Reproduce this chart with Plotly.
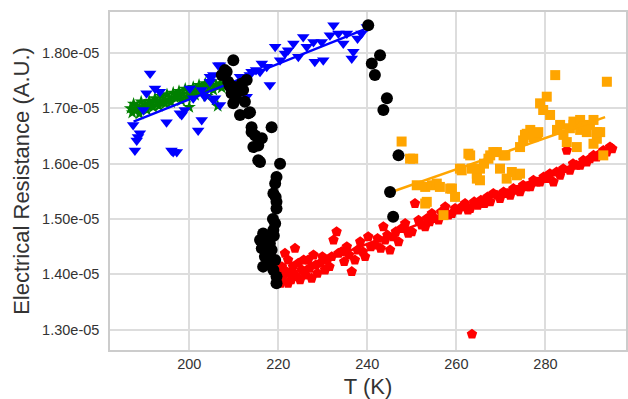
import plotly.graph_objects as go

R_UNIT = 1e-5

green_t = [186.8, 187.2, 187.5, 187.9, 188.3, 188.8, 189.2, 189.6, 190.1, 190.5, 191.0, 191.4, 191.9, 192.3, 192.8,
           193.2, 193.7, 194.1, 194.6, 195.0, 195.5, 195.9, 196.4, 196.8, 197.3, 197.7, 198.2, 198.6, 199.1, 199.5,
           200.0, 200.4, 200.9, 201.3, 201.8, 202.2, 202.7, 203.1, 203.6, 204.0, 204.5, 205.0, 205.4, 206.0, 206.4,
           206.9, 207.3]
green_r = [1.700, 1.692, 1.708, 1.697, 1.703, 1.690, 1.712, 1.701, 1.706, 1.697, 1.713, 1.708, 1.702, 1.718, 1.710,
           1.704, 1.722, 1.713, 1.708, 1.725, 1.716, 1.711, 1.728, 1.719, 1.722, 1.731, 1.714, 1.726, 1.735, 1.720,
           1.702, 1.729, 1.738, 1.724, 1.733, 1.742, 1.729, 1.737, 1.745, 1.722, 1.739, 1.748, 1.733, 1.742, 1.704,
           1.745, 1.737]

blue_t = [187.4, 187.8, 188.2, 188.5, 188.9, 189.7, 190.4, 191.2, 192.3, 193.4, 194.9, 196.0, 196.4, 197.2, 197.9,
          198.3, 199.0, 200.15, 200.9, 202.0, 202.8, 202.8, 203.5, 204.65, 204.65, 205.4, 205.4, 205.8, 206.5, 206.9,
          206.9, 208.0, 209.9, 211.4, 212.9, 213.6, 214.0, 215.0, 215.9, 216.3, 217.4, 218.1, 219.3, 220.4, 221.5,
          222.2, 223.4, 224.5, 225.6, 226.4, 227.9, 228.2, 229.75, 230.1, 231.6, 232.4, 233.5, 234.6, 235.4, 236.5,
          236.85, 237.8, 238.7, 239.9]
blue_r = [1.670, 1.624, 1.642, 1.648, 1.655, 1.697, 1.727, 1.763, 1.736, 1.730, 1.675, 1.624, 1.621, 1.621, 1.691,
          1.688, 1.697, 1.736, 1.718, 1.660, 1.679, 1.733, 1.721, 1.757, 1.748, 1.715, 1.760, 1.718, 1.778, 1.706,
          1.778, 1.754, 1.724, 1.757, 1.721, 1.760, 1.766, 1.769, 1.766, 1.781, 1.775, 1.742, 1.811, 1.787, 1.799,
          1.805, 1.817, 1.793, 1.829, 1.811, 1.820, 1.784, 1.820, 1.787, 1.832, 1.850, 1.835, 1.817, 1.835, 1.790,
          1.802, 1.826, 1.835, 1.847]

black_t = [207.3, 208.0, 208.4, 208.75, 209.1, 209.5, 209.9, 209.9, 209.9, 210.5, 211.0, 211.4, 211.8, 212.1, 212.9,
           212.5, 213.3, 213.65, 214.0, 214.0, 214.4, 214.8, 215.5, 215.5, 215.9, 216.3, 218.5, 220.4, 219.6, 219.3,
           218.9, 219.6, 219.6, 219.3, 218.9, 216.6, 215.9, 217.75, 216.3, 218.5, 217.0, 219.3, 216.6, 218.9, 219.6,
           219.6, 218.1, 217.4, 218.0, 219.0, 218.8, 219.4, 240.2, 242.85, 241.0, 241.7, 244.4, 243.6, 247.0, 245.1,
           245.8]
black_r = [1.760, 1.769, 1.766, 1.748, 1.740, 1.727, 1.787, 1.739, 1.709, 1.718, 1.730, 1.688, 1.745, 1.733, 1.751,
           1.712, 1.691, 1.693, 1.666, 1.657, 1.630, 1.651, 1.633, 1.606, 1.603, 1.646, 1.666, 1.600, 1.576, 1.564,
           1.546, 1.531, 1.519, 1.492, 1.480, 1.474, 1.462, 1.462, 1.447, 1.444, 1.432, 1.426, 1.414, 1.408, 1.396,
           1.384, 1.456, 1.438, 1.420, 1.470, 1.500, 1.540, 1.850, 1.796, 1.781, 1.760, 1.718, 1.697, 1.615, 1.549,
           1.504]

red_t = [219.6, 220.0, 220.3, 220.5, 220.8, 221.0, 221.5, 221.8, 222.2, 222.2, 222.6, 222.9, 223.3, 223.75, 224.1,
         224.5, 224.9, 225.3, 225.7, 226.1, 226.7, 227.0, 227.5, 227.9, 228.4, 228.8, 229.4, 229.9, 230.5, 231.0,
         231.5, 232.0, 232.4, 233.1, 233.5, 234.2, 234.8, 235.4, 235.9, 236.5, 237.2, 237.8, 238.4, 239.0, 239.5,
         240.2, 240.8, 241.7, 242.3, 243.0, 243.6, 244.0, 244.5, 245.1, 245.8, 246.4, 247.0, 247.7, 248.5, 249.2,
         250.0, 250.7, 251.5, 252.2, 253.0, 253.4, 254.0, 254.5, 255.2, 256.0, 256.6, 257.5, 258.2, 259.0, 259.7,
         260.45, 261.2, 261.95, 262.6, 263.1, 263.5, 264.0, 264.8, 265.5, 266.3, 267.0, 267.6, 268.3, 269.1, 269.8,
         270.6, 271.4, 272.1, 272.8, 273.6, 274.3, 275.0, 275.8, 276.6, 277.3, 278.1, 278.8, 279.6, 280.3, 281.0,
         281.8, 282.5, 283.3, 284.0, 284.8, 285.5, 286.2, 287.0, 287.8, 288.5, 289.3, 290.0, 290.8, 291.5, 292.3,
         293.0, 293.8, 294.5, 295.0]
red_r = [1.384, 1.392, 1.402, 1.384, 1.414, 1.396, 1.438, 1.405, 1.426, 1.384, 1.402, 1.390, 1.414, 1.447, 1.396,
         1.420, 1.390, 1.408, 1.426, 1.399, 1.426, 1.411, 1.393, 1.435, 1.417, 1.402, 1.420, 1.432, 1.408, 1.426,
         1.414, 1.432, 1.462, 1.477, 1.438, 1.441, 1.423, 1.450, 1.435, 1.405, 1.426, 1.444, 1.459, 1.441, 1.432,
         1.468, 1.450, 1.453, 1.465, 1.447, 1.486, 1.462, 1.471, 1.444, 1.468, 1.477, 1.459, 1.483, 1.492, 1.474,
         1.477, 1.528, 1.498, 1.489, 1.486, 1.501, 1.495, 1.510, 1.501, 1.498, 1.513, 1.522, 1.507, 1.510, 1.519,
         1.516, 1.522, 1.528, 1.516, 1.519, 1.292, 1.531, 1.525, 1.534, 1.528, 1.540, 1.531, 1.546, 1.543, 1.537,
         1.549, 1.546, 1.543, 1.555, 1.552, 1.549, 1.561, 1.558, 1.558, 1.570, 1.567, 1.567, 1.576, 1.573, 1.582,
         1.567, 1.585, 1.579, 1.591, 1.624, 1.588, 1.600, 1.597, 1.597, 1.606, 1.603, 1.609, 1.615, 1.612, 1.618,
         1.624, 1.621, 1.630, 1.627]

orange_t = [247.7, 249.6, 250.3, 251.1, 253.0, 253.0, 253.35, 254.5, 255.6, 256.3, 257.1, 258.6, 259.0, 259.7, 260.8,
            261.2, 262.7, 263.1, 263.5, 264.6, 264.6, 265.3, 265.3, 266.2, 267.2, 267.6, 268.3, 269.1, 269.8, 270.6,
            271.0, 271.3, 272.45, 273.6, 274.3, 274.3, 275.0, 275.4, 275.8, 276.6, 277.3, 278.1, 278.4, 278.8, 279.5,
            280.3, 281.05, 282.2, 282.6, 283.3, 284.05, 284.8, 285.5, 286.3, 286.3, 287.05, 287.8, 287.8, 288.5, 289.3,
            290.0, 290.8, 290.8, 291.55, 291.55, 292.3, 293.0, 293.8]
orange_r = [1.640, 1.609, 1.609, 1.561, 1.558, 1.528, 1.531, 1.561, 1.564, 1.558, 1.507, 1.555, 1.555, 1.540, 1.591,
            1.588, 1.618, 1.615, 1.591, 1.573, 1.582, 1.570, 1.591, 1.600, 1.609, 1.615, 1.621, 1.621, 1.591, 1.615,
            1.615, 1.573, 1.585, 1.579, 1.582, 1.630, 1.642, 1.652, 1.654, 1.661, 1.648, 1.652, 1.657, 1.709, 1.697,
            1.721, 1.688, 1.760, 1.661, 1.670, 1.652, 1.639, 1.664, 1.676, 1.670, 1.630, 1.661, 1.679, 1.667, 1.657,
            1.670, 1.679, 1.636, 1.657, 1.645, 1.657, 1.615, 1.748]

green_fit_t = [186.7, 207.4]
green_fit_r = [1.693, 1.738]
blue_fit_t = [187.5, 239.5]
blue_fit_r = [1.676, 1.843]
red_fit_t = [219.6, 295.0]
red_fit_r = [1.392, 1.625]
orange_fit_t = [245.1, 293.4]
orange_fit_r = [1.548, 1.684]

x_ticks = [200, 220, 240, 260, 280]
y_ticks = [1.30, 1.40, 1.50, 1.60, 1.70, 1.80]
y_tick_labels = ["1.30e-05", "1.40e-05", "1.50e-05", "1.60e-05", "1.70e-05", "1.80e-05"]


def scale(vals):
    return [v * R_UNIT for v in vals]


fig = go.Figure()


def pts(t, r, color, symbol, size):
    fig.add_trace(go.Scatter(x=t, y=scale(r), mode="markers",
                             marker=dict(color=color, symbol=symbol, size=size, line=dict(width=0)),
                             showlegend=False, hoverinfo="skip"))


def fit(t, r, color):
    fig.add_trace(go.Scatter(x=t, y=scale(r), mode="lines",
                             line=dict(color=color, width=2.5),
                             showlegend=False, hoverinfo="skip"))


pts(green_t, green_r, "#008000", "star", 10)
fit(green_fit_t, green_fit_r, "#008000")
pts(blue_t, blue_r, "#0000ff", "triangle-down", 11)
fit(blue_fit_t, blue_fit_r, "#0000ff")
pts(red_t, red_r, "#ff0000", "pentagon", 11)
fit(red_fit_t, red_fit_r, "#ff0000")
pts(orange_t, orange_r, "#ffa500", "square", 10)
fit(orange_fit_t, orange_fit_r, "#ffa500")
pts(black_t, black_r, "#000000", "circle", 12)

axis_common = dict(showgrid=True, gridcolor="#dddddd", gridwidth=1.5, showline=True,
                   linecolor="#cccccc", linewidth=1.5, mirror=True, zeroline=False,
                   tickfont=dict(family="Liberation Sans, Arial, sans-serif", size=14.5, color="#333333"),
                   ticks="", automargin=False)

fig.update_layout(
    width=628, height=399,
    margin=dict(l=110, r=2, t=12, b=49),
    paper_bgcolor="white", plot_bgcolor="white",
    font=dict(family="Liberation Sans, Arial, sans-serif", color="#333333"),
    xaxis=dict(range=[182.2, 298.1], tickvals=x_ticks, ticktext=[str(v) for v in x_ticks],
               title=dict(text="T (K)", font=dict(size=22), standoff=10), ticklabelstandoff=0,
               **axis_common),
    yaxis=dict(range=[1.2634e-5, 1.874e-5], tickvals=scale(y_ticks), ticktext=y_tick_labels,
               title=dict(text="Electrical Resistance (A.U.)", font=dict(size=22), standoff=6),
               ticklabelstandoff=6, **axis_common),
)

fig.write_html("out.html", config={"displayModeBar": False},
               post_script="document.body.style.margin='0px';")
